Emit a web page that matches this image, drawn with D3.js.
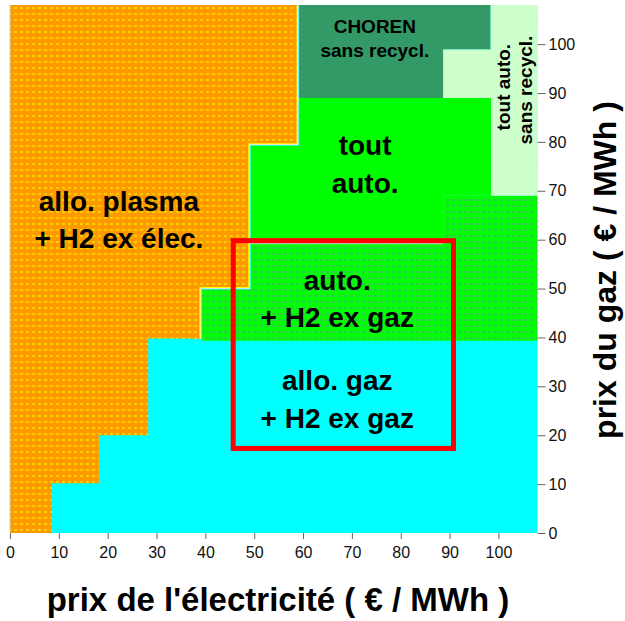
<!DOCTYPE html>
<html>
<head>
<meta charset="utf-8">
<script src="https://cdn.jsdelivr.net/npm/d3@7"></script>
<style>
  body { margin: 0; background: #fff; }
  svg { display: block; }
</style>
</head>
<body>
<svg class="zone-chart" width="625" height="621"></svg>
<script>
// axis ticks (€/MWh)
const xTicks = [0, 10, 20, 30, 40, 50, 60, 70, 80, 90, 100];
const yTicks = [0, 10, 20, 30, 40, 50, 60, 70, 80, 90, 100];

// zones, corners as [prix électricité, prix gaz]
const zoneAlloGaz = [[8.6, 0], [108, 0], [108, 39.3], [28.3, 39.8], [28.3, 20], [18.2, 20], [18.2, 10.2], [8.6, 10.2]];
const zoneAutoH2Gaz = [[39.3, 39.3], [108, 39.3], [108, 69], [88.7, 69], [88.7, 59.2], [49.3, 59.2], [49.3, 49.8], [39.3, 49.8]];
const zoneToutAuto = [[49.3, 59.2], [88.7, 59.2], [88.7, 69], [98.5, 69], [98.5, 89], [59.2, 89], [59.2, 79.2], [49.3, 79.2]];
const zoneChoren = [[59.2, 89], [88.7, 89], [88.7, 98.9], [98.4, 98.9], [98.4, 108], [59.2, 108]];
const zoneToutAutoSans = [[98.5, 69], [108, 69], [108, 108], [98.4, 108], [98.4, 98.9], [88.7, 98.9], [88.7, 89], [98.5, 89]];

// highlighted zone (red box)
const boxX = [45.7, 90.8];
const boxY = [17.3, 59.8];

// zone labels: lines + first baseline
const zoneLabels = [
  { lines: ["allo. plasma", "+ H2 ex élec."], x: 22.3, y: 65.9, size: 28, gap: 37 },
  { lines: ["tout", "auto."], x: 72.7, y: 77.3, size: 28, gap: 38 },
  { lines: ["auto.", "+ H2 ex gaz"], x: 67, y: 49.7, size: 28, gap: 37 },
  { lines: ["allo. gaz", "+ H2 ex gaz"], x: 67, y: 29.2, size: 28, gap: 38 },
  { lines: ["CHOREN", "sans recycl."], x: 74.7, y: 102.3, size: 19, gap: 24 }
];
const sideLabels = [
  { text: "tout auto.", x: 102.4, y: 91.2 },
  { text: "sans recycl.", x: 106.9, y: 90.6 }
];

const svg = d3.select(".zone-chart");
const font = "Arial, 'Liberation Sans', sans-serif";

const x = d3.scaleLinear().domain([0, 108]).range([10, 537.5]);
const y = d3.scaleLinear().domain([0, 108]).range([533, 5]);

const defs = svg.append("defs");

// dotted textures
const orangePat = defs.append("pattern")
  .attr("id", "pat-orange").attr("patternUnits", "userSpaceOnUse")
  .attr("width", 6).attr("height", 6);
orangePat.append("rect").attr("width", 6).attr("height", 6).attr("fill", "#ff9900");
orangePat.append("rect").attr("x", 2).attr("y", 1).attr("width", 3).attr("height", 2).attr("fill", "#ffcc00");

const greenPat = defs.append("pattern")
  .attr("id", "pat-green").attr("patternUnits", "userSpaceOnUse")
  .attr("width", 6).attr("height", 6);
greenPat.append("rect").attr("width", 6).attr("height", 6).attr("fill", "#00ff00");
greenPat.append("rect").attr("x", 2).attr("y", 1).attr("width", 3).attr("height", 2).attr("fill", "#2ccc44");

defs.append("clipPath").attr("id", "plot-clip")
  .append("rect")
  .attr("x", x(0)).attr("y", y(108))
  .attr("width", x(108) - x(0)).attr("height", y(0) - y(108));

const line = d3.line().x(d => x(d[0])).y(d => y(d[1])).curve(d3.curveLinearClosed);

const plot = svg.append("g").attr("clip-path", "url(#plot-clip)");

// background = allo. plasma zone
plot.append("rect")
  .attr("x", x(0)).attr("y", y(108))
  .attr("width", x(108) - x(0)).attr("height", y(0) - y(108))
  .attr("fill", "url(#pat-orange)");

// thin mixed-colour seams on the boundaries
const seams = [zoneToutAuto, zoneAutoH2Gaz, zoneChoren];
seams.forEach(z => {
  plot.append("path").attr("d", line(z))
    .attr("fill", "none").attr("stroke", "#ffff00").attr("stroke-width", 5);
  plot.append("path").attr("d", line(z))
    .attr("fill", "none").attr("stroke", "#e8e8e8").attr("stroke-width", 3);
  plot.append("path").attr("d", line(z))
    .attr("fill", "none").attr("stroke", "#33ffff").attr("stroke-width", 1.5);
});

const zones = [
  { pts: zoneAlloGaz, fill: "#00ffff" },
  { pts: zoneAutoH2Gaz, fill: "url(#pat-green)" },
  { pts: zoneToutAuto, fill: "#00ff00" },
  { pts: zoneChoren, fill: "#339966" },
  { pts: zoneToutAutoSans, fill: "#ccffcc" }
];

plot.selectAll(".zone")
  .data(zones)
  .enter()
  .append("path")
  .attr("class", "zone")
  .attr("d", d => line(d.pts))
  .attr("fill", d => d.fill);

// seam between the two green zones
plot.append("line")
  .attr("x1", x(49.3)).attr("x2", x(88.7))
  .attr("y1", y(59.2)).attr("y2", y(59.2))
  .attr("stroke", "#cccccc").attr("stroke-width", 1.5);

// axes
const axisColor = "#666";
const xAxis = svg.append("g")
  .attr("transform", `translate(0,${y(0)})`)
  .call(d3.axisBottom(x).tickValues(xTicks).tickSize(6).tickPadding(8));
xAxis.select(".domain").remove();

const yAxis = svg.append("g")
  .attr("transform", `translate(${x(108)},0)`)
  .call(d3.axisRight(y).tickValues(yTicks).tickSize(8).tickPadding(3));
yAxis.select(".domain").remove();

[xAxis, yAxis].forEach(a => {
  a.selectAll("line").attr("stroke", axisColor);
  a.selectAll("text")
    .attr("fill", "#111")
    .style("font-family", font)
    .style("font-size", "16px");
});

// left frame line
svg.append("line")
  .attr("x1", x(0)).attr("x2", x(0))
  .attr("y1", y(108)).attr("y2", y(0))
  .attr("stroke", "#cccccc").attr("stroke-width", 1);

// red box
svg.append("rect")
  .attr("x", x(boxX[0])).attr("y", y(boxY[1]))
  .attr("width", x(boxX[1]) - x(boxX[0]))
  .attr("height", y(boxY[0]) - y(boxY[1]))
  .attr("fill", "none")
  .attr("stroke", "#ff0000")
  .attr("stroke-width", 5);

// zone labels
zoneLabels.forEach(l => {
  const t = svg.append("text")
    .attr("x", x(l.x))
    .attr("y", y(l.y))
    .attr("text-anchor", "middle")
    .attr("font-family", font)
    .attr("font-weight", "bold")
    .attr("font-size", l.size)
    .attr("fill", "#000");
  l.lines.forEach((s, i) => {
    t.append("tspan")
      .attr("x", x(l.x))
      .attr("dy", i === 0 ? 0 : l.gap)
      .text(s);
  });
});

sideLabels.forEach(l => {
  svg.append("text")
    .attr("transform", `translate(${x(l.x)},${y(l.y)}) rotate(-90)`)
    .attr("text-anchor", "middle")
    .attr("font-family", font)
    .attr("font-weight", "bold")
    .attr("font-size", 19)
    .attr("fill", "#000")
    .text(l.text);
});

// axis titles
svg.append("text")
  .text("prix de l'électricité ( € / MWh )")
  .attr("x", 278)
  .attr("y", 611)
  .attr("text-anchor", "middle")
  .attr("font-family", font)
  .attr("font-weight", "bold")
  .attr("font-size", 33)
  .attr("fill", "#000");

svg.append("text")
  .text("prix du gaz ( € / MWh )")
  .attr("transform", "translate(616,270) rotate(-90)")
  .attr("text-anchor", "middle")
  .attr("font-family", font)
  .attr("font-weight", "bold")
  .attr("font-size", 32)
  .attr("fill", "#000");
</script>
</body>
</html>
